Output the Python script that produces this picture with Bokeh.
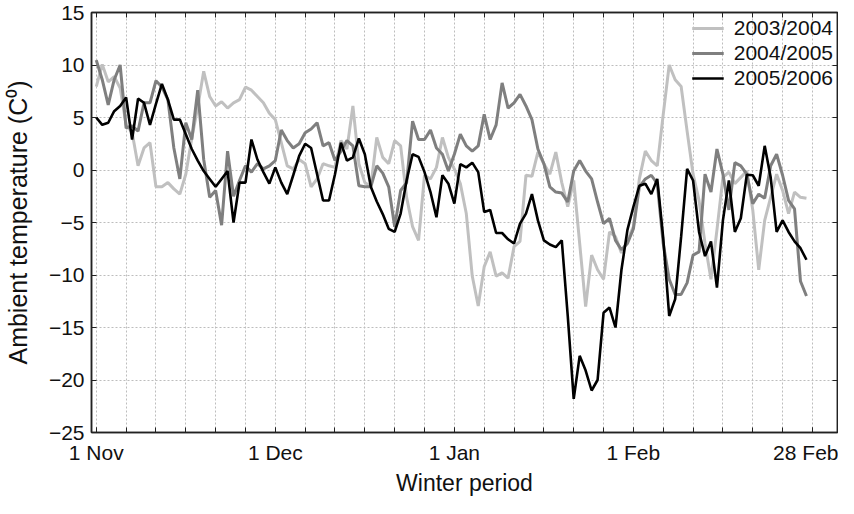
from bokeh.plotting import figure
from bokeh.models import Range1d, FixedTicker, LinearAxis, Legend, LegendItem
from bokeh.embed import file_html
from bokeh.resources import INLINE

# day index 0 = 1 Nov ... 119 = 28 Feb
days = list(range(120))

t_2003_2004 = [
    7.95, 10.06, 8.4, 8.9, 7.8, 4.3, 3.6, 0.4, 2.1, 2.6,
    -1.6, -1.6, -1.2, -1.8, -2.3, -0.4, 3.0, 6.0, 9.4, 7.0,
    6.1, 6.5, 5.9, 6.4, 6.7, 7.9, 7.6, 7.0, 6.4, 5.4,
    4.8, 2.6, 0.4, 0.1, 1.0, 0.6, -1.6, -0.85, 0.6, 0.4,
    0.25, 2.8, 2.0, 6.1, 0.6, -1.2, -1.6, 3.1, 1.2, 0.6,
    2.8, 2.3, -2.6, -5.4, -6.7, -0.5, -0.85, 0.25, 3.1, 1.2,
    0.1, -1.3, -4.15, -10.1, -12.95, -9.2, -7.8, -10.1, -9.8, -10.3,
    -7.3, -6.8, -0.5, -0.6, 1.7, 0.6, -0.4, 1.7, -1.2, -3.5,
    -1.0, -7.0, -13.0, -8.1, -9.5, -10.4, -5.9, -6.35, -7.9, -6.7,
    -5.4, -0.85, 1.8, 0.9, 0.4, 5.3, 10.0, 8.6, 7.95, 3.7,
    -0.4, -2.9, -7.0, -10.4, -5.7, -0.7, -0.2, -1.3, -0.7, -0.1,
    -3.8, -9.5, -4.8, -2.6, -0.4, -1.95, -4.15, -2.1, -2.6, -2.7,
]

t_2004_2005 = [
    10.47, 8.6, 6.2, 8.6, 10.0, 4.0, 4.2, 3.7, 6.4, 6.4,
    8.5, 7.9, 6.7, 2.1, -0.85, 4.5, 2.9, 7.6, 1.0, -2.6,
    -1.95, -5.25, 1.8, -2.5, -1.0, 0.4, -0.2, 0.6, 0.1, 0.4,
    0.9, 3.8, 2.8, 2.1, 2.5, 3.55, 3.9, 4.5, 2.3, 2.6,
    0.9, 1.8, 2.8, 2.3, -1.5, -1.6, -1.6, 0.4, -0.3, -1.6,
    -5.4, -1.95, -1.2, 4.65, 2.9, 2.9, 3.8, 2.1, 1.5, -0.1,
    1.5, 3.4, 2.3, 1.8, 2.3, 5.3, 2.9, 4.3, 8.3, 5.9,
    6.4, 7.2, 6.1, 4.8, 2.0, 0.6, -1.6, -2.1, -2.2, -3.05,
    -0.1, 0.9, -0.1, -0.85, -3.05, -5.1, -4.6, -6.7, -7.6, -7.0,
    -5.6, -1.6, -0.85, -0.5, -1.3, -7.0, -10.4, -11.85, -11.85, -10.75,
    -8.1, -7.8, -0.4, -2.1, 2.0, -0.4, -3.8, 0.7, 0.4, -0.4,
    -3.2, -2.3, -2.7, 0.4, 1.5, -0.5, -2.9, -3.7, -10.6, -12.0,
]

t_2005_2006 = [
    5.0, 4.3, 4.5, 5.6, 6.1, 6.9, 2.9, 6.8, 6.4, 4.3,
    6.3, 8.2, 6.7, 4.8, 4.8, 3.4, 2.0, 0.9, -0.1, -0.85,
    -1.6, -0.85, -0.1, -5.0, -1.2, -1.2, 2.9, 1.0, -0.2, -1.3,
    0.25, -1.2, -2.3, -0.5, 1.35, 2.5, 2.1, -0.4, -2.9, -2.9,
    -0.4, 2.6, 0.9, 1.2, 3.0, 1.5, -1.6, -3.0, -4.2, -5.6,
    -5.9, -4.15, -1.0, 1.5, 1.25, -0.2, -2.1, -4.5, -0.5, -1.3,
    -3.2, 0.56, 0.25, 0.7, -0.2, -4.0, -3.8, -6.0, -6.0, -6.6,
    -7.0, -5.1, -4.15, -2.3, -4.8, -6.7, -7.1, -7.35, -6.7, -13.9,
    -21.8, -17.7, -19.1, -21.0, -20.0, -13.6, -13.1, -15.0, -9.5, -5.7,
    -3.5, -1.5, -1.3, -2.3, -0.85, -6.5, -13.9, -12.3, -6.35, 0.1,
    -1.0, -5.9, -8.2, -6.8, -11.2, -4.8, -1.0, -5.9, -4.6, -0.45,
    -0.5, -1.5, 2.3, -0.7, -5.9, -4.8, -5.9, -6.8, -7.45, -8.55,
]

series_names = ["2003/2004", "2004/2005", "2005/2006"]
x_grid_ticks = list(range(0, 121, 5))
x_label_ticks = [0, 30, 60, 90, 120]
x_tick_labels = ["1 Nov", "1 Dec", "1 Jan", "1 Feb", "28 Feb"]
y_ticks = list(range(-25, 16, 5))

FONT = "Liberation Sans"
AX = "#222222"

p = figure(width=838, height=498, output_backend="svg", toolbar_location=None,
           x_range=Range1d(-0.8, 124.2), y_range=Range1d(-25, 15),
           min_border_left=88, min_border_right=1, min_border_top=12, min_border_bottom=62,
           x_axis_label="Winter period", y_axis_label="Ambient temperature (C\u2070)")

p.background_fill_color = "white"
p.border_fill_color = "white"
p.outline_line_color = AX
p.outline_line_width = 1.5

for ax in p.xaxis:
    ax.ticker = FixedTicker(ticks=x_label_ticks, minor_ticks=x_grid_ticks)
    ax.major_label_overrides = dict(zip(x_label_ticks, x_tick_labels))
for ax in p.yaxis:
    ax.ticker = FixedTicker(ticks=y_ticks)

for ax in list(p.xaxis) + list(p.yaxis):
    ax.major_tick_in = 5
    ax.major_tick_out = 0
    ax.minor_tick_in = 5
    ax.minor_tick_out = 0
    ax.minor_tick_line_color = AX
    ax.major_tick_line_color = AX
    ax.axis_line_color = AX
    ax.axis_line_width = 1.5
    ax.major_label_text_font = FONT
    ax.major_label_text_font_size = "21px"
    ax.major_label_text_color = "#111111"
    ax.axis_label_text_font = FONT
    ax.axis_label_text_font_style = "normal"
    ax.axis_label_text_color = "#111111"

p.xaxis.major_label_standoff = 8
p.xaxis.axis_label_text_font_size = "23px"
p.xaxis.axis_label_standoff = 3
p.yaxis.major_label_standoff = 7
p.yaxis.axis_label_text_font_size = "25px"
p.yaxis.axis_label_standoff = 14

# mirrored axes with inward ticks on top and right (ticks only, no labels)
top_ax = LinearAxis(ticker=FixedTicker(ticks=[], minor_ticks=x_grid_ticks),
                    major_label_standoff=0, major_tick_in=0, major_tick_out=0,
                    minor_tick_in=5, minor_tick_out=0, minor_tick_line_color=AX,
                    axis_line_color=AX, axis_line_width=1.5)
right_ax = LinearAxis(ticker=FixedTicker(ticks=[], minor_ticks=y_ticks),
                      major_label_standoff=0, major_tick_in=0, major_tick_out=0,
                      minor_tick_in=5, minor_tick_out=0, minor_tick_line_color=AX,
                      axis_line_color=AX, axis_line_width=1.5)
p.add_layout(top_ax, "above")
p.add_layout(right_ax, "right")

p.xgrid.ticker = FixedTicker(ticks=x_grid_ticks)
p.ygrid.ticker = FixedTicker(ticks=y_ticks)
for g in (p.xgrid, p.ygrid):
    g.grid_line_color = "#bdbdbd"
    g.grid_line_dash = "2 2"
    g.grid_line_width = 1

r1 = p.line(days, t_2003_2004, line_color="#c0c0c0", line_width=3)
r2 = p.line(days, t_2004_2005, line_color="#7f7f7f", line_width=3)
r3 = p.line(days, t_2005_2006, line_color="#000000", line_width=2.6)

legend = Legend(items=[LegendItem(label=series_names[0], renderers=[r1]),
                       LegendItem(label=series_names[1], renderers=[r2]),
                       LegendItem(label=series_names[2], renderers=[r3])],
                location="top_right")
legend.border_line_color = None
legend.background_fill_alpha = 0
legend.label_text_font = FONT
legend.label_text_font_size = "21px"
legend.label_text_color = "#111111"
legend.glyph_width = 32
legend.glyph_height = 24
legend.label_height = 24
legend.label_standoff = 10
legend.spacing = 1
legend.padding = 4
legend.margin = 4
p.add_layout(legend)

open("out.html", "w").write(file_html(p, INLINE))
